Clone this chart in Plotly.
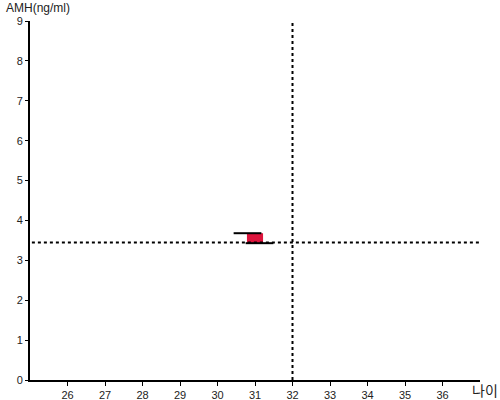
import plotly.graph_objects as go

# data
bar_x = [31.0]
bar_base = [3.43]
bar_top = [3.68]
bar_width = 0.43
top_line_x = [30.43, 31.17]
top_line_y = [3.68, 3.68]
bot_line_x = [30.75, 31.49]
bot_line_y = [3.43, 3.43]
ref_age = 32
ref_amh = 3.45
x_ticks = [26, 27, 28, 29, 30, 31, 32, 33, 34, 35, 36]
y_ticks = [0, 1, 2, 3, 4, 5, 6, 7, 8, 9]

fig = go.Figure()
fig.add_trace(go.Bar(x=bar_x, y=[t - b for t, b in zip(bar_top, bar_base)], base=bar_base,
                     width=bar_width, marker=dict(color="#dc143c", line=dict(width=0))))
fig.add_trace(go.Scatter(x=top_line_x, y=top_line_y, mode="lines", line=dict(color="black", width=2)))
fig.add_trace(go.Scatter(x=bot_line_x, y=bot_line_y, mode="lines", line=dict(color="black", width=2)))

fig.add_shape(type="line", xref="x", yref="y", x0=24.73, x1=37, y0=ref_amh, y1=ref_amh,
              line=dict(color="black", width=2, dash="dot"))
fig.add_shape(type="line", xref="x", yref="y", x0=ref_age, x1=ref_age, y0=0, y1=9,
              line=dict(color="black", width=2, dash="dot"))

fig.add_annotation(text="AMH(ng/ml)", xref="paper", yref="paper", x=-0.058, y=1.0, yanchor="bottom",
                   xanchor="left", showarrow=False, yshift=4,
                   font=dict(family="Liberation Sans, Arial", size=12, color="#222"))
fig.add_annotation(text="나이", xref="paper", yref="paper", x=1.044, y=0, xanchor="right", yanchor="top",
                   showarrow=False, yshift=2,
                   font=dict(family="Noto Sans CJK KR", size=14, color="#222"))

fig.update_layout(
    width=500, height=400, margin=dict(l=30, r=20, t=21, b=20, autoexpand=False),
    plot_bgcolor="white", paper_bgcolor="white", showlegend=False,
    font=dict(family="Liberation Sans, Arial", size=11, color="#222"),
    xaxis=dict(range=[25, 37], tickvals=x_ticks, showgrid=False, zeroline=False, automargin=False,
               showline=True, linecolor="black", linewidth=2, ticks="outside", ticklen=4,
               tickcolor="black", tickwidth=1, fixedrange=True),
    yaxis=dict(range=[0, 9], tickvals=y_ticks, showgrid=False, zeroline=False, automargin=False,
               showline=True, linecolor="black", linewidth=2, ticks="outside", ticklen=3,
               tickcolor="black", tickwidth=1),
)
fig.write_html("out.html", config={"displayModeBar": False},
               post_script="document.body.style.margin='0';document.body.style.overflow='hidden';")
